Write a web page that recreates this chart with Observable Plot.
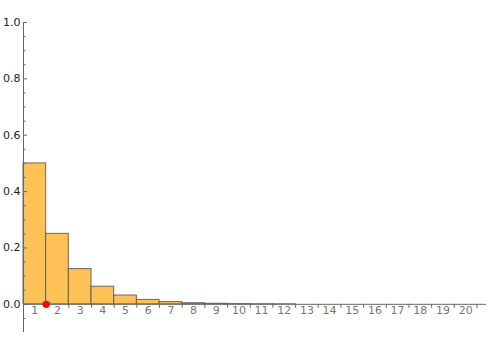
<!DOCTYPE html>
<html>
<head>
<meta charset="utf-8">
<script src="https://cdn.jsdelivr.net/npm/d3@7"></script>
<script src="https://cdn.jsdelivr.net/npm/@observablehq/plot@0.6"></script>
<style>
  html, body { margin: 0; padding: 0; background: #fff; }
</style>
</head>
<body>
<div id="chart"></div>
<script>
const categories = [1,2,3,4,5,6,7,8,9,10,11,12,13,14,15,16,17,18,19,20];
const barValues = [0.5,0.25,0.125,0.0625,0.03125,0.015625,0.0078125,0.00390625,0.001953,0.000977,0.000488,0.000244];
const yMajorTicks = [0,0.2,0.4,0.6,0.8,1.0];
const yMinorTicks = [-0.05,0.05,0.1,0.15,0.25,0.3,0.35,0.45,0.5,0.55,0.65,0.7,0.75,0.85,0.9,0.95];
const xBoundaries = [1.5,2.5,3.5,4.5,5.5,6.5,7.5,8.5,9.5,10.5,11.5,12.5,13.5,14.5,15.5,16.5,17.5,18.5,19.5,20.5];
const point = [{x: 1.5, y: 0}];

const bars = barValues.map((p, i) => ({k: categories[i], p}));
const axisColor = "#666";

const chart = Plot.plot({
  width: 500,
  height: 350,
  marginLeft: 23,
  marginRight: 14,
  marginTop: 22,
  marginBottom: 18,
  style: {fontFamily: "DejaVu Sans", fontSize: "11px", background: "#fff"},
  x: {domain: [0.5, 20.92], axis: null},
  y: {domain: [-0.1, 1.0], axis: null},
  marks: [
    Plot.rectY(bars, {x1: d => d.k - 0.5, x2: d => d.k + 0.5, y1: 0, y2: "p", fill: "#FDC155", stroke: "#555", strokeOpacity: 0.85, strokeWidth: 1}),
    Plot.ruleX([0.5], {stroke: axisColor, strokeWidth: 1}),
    Plot.ruleY([0], {stroke: axisColor, strokeWidth: 1}),
    Plot.ruleY(yMajorTicks, {y: d => d, x1: 0.5, x2: 0.5, insetRight: -4, stroke: axisColor}),
    Plot.ruleY(yMinorTicks, {y: d => d, x1: 0.5, x2: 0.5, insetRight: -2.5, stroke: axisColor}),
    Plot.text(yMajorTicks, {y: d => d, x: 0.5, text: d => d3.format(".1f")(d), textAnchor: "end", dx: -3, fill: "#222", fontSize: 11}),
    Plot.ruleX(xBoundaries, {x: d => d, y1: 0, y2: 0, insetBottom: -4, stroke: axisColor}),
    Plot.text(categories, {x: d => d, y: 0, text: d => String(d), lineAnchor: "top", dy: 2, fill: "#777", fontSize: 11}),
    Plot.dot(point, {x: "x", y: "y", r: 3.6, fill: "red", stroke: "none"})
  ]
});
document.getElementById("chart").appendChild(chart);
</script>
</body>
</html>
